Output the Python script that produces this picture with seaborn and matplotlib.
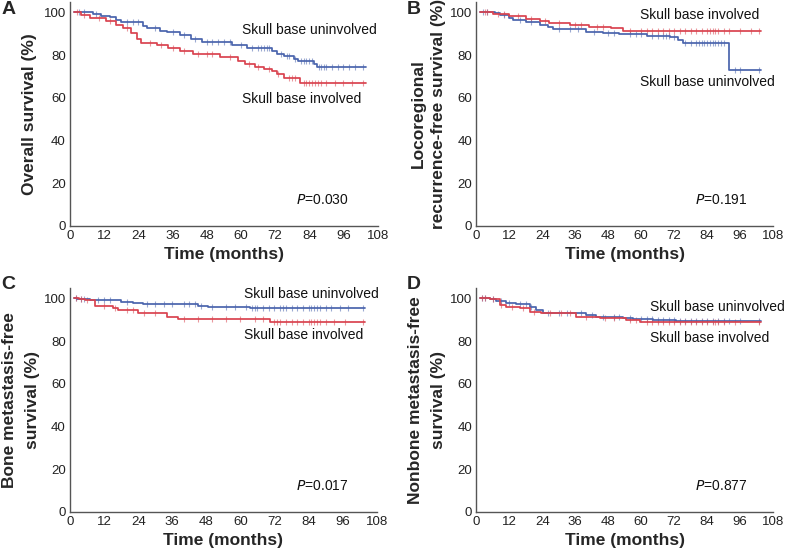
import numpy as np
import pandas as pd
import matplotlib
matplotlib.use("Agg")
import matplotlib.pyplot as plt
import seaborn as sns

sns.set_style("white")
plt.rcParams['font.family'] = ['Liberation Sans', 'DejaVu Sans']

RED = '#d9434f'
BLUE = '#4a64ad'

# ---------------- data (step times / survival after step) ----------------
A_unin_t = [1.5, 8, 11, 14, 16, 18, 25.5, 27, 31.5, 34, 38.5, 42.5, 46.5, 57, 62, 71, 72.5, 75, 78.5, 80, 85.5, 86.8, 103.8]
A_unin_s = [100, 99.3, 98.5, 97.8, 96.5, 95.5, 93.5, 92.5, 91.5, 90.8, 89.5, 87.5, 86.2, 84.5, 83.3, 82, 80.5, 79.5, 78.2, 77, 76, 74.2, 74.2]
A_inv_t = [1.5, 4, 7, 12.5, 16, 18.5, 21.5, 23.5, 25, 30.5, 34.5, 38.5, 43, 52.5, 59, 61.3, 65, 68, 71, 72.5, 75, 80.7, 103.8]
A_inv_s = [100, 99, 97.2, 95.8, 94.2, 92.8, 90.5, 87.5, 85.5, 84.7, 83.2, 82, 80.5, 79.3, 77, 76, 74.6, 73.6, 72.3, 71.3, 69.2, 66.8, 66.8]

B_inv_t = [1.5, 6, 12, 18, 23, 26.5, 34, 41, 49, 53.5, 103.8]
B_inv_s = [100, 99.3, 98.2, 96.8, 95.8, 94.9, 94.1, 93.3, 92.6, 91.2, 91.2]
B_unin_t = [1.5, 6.7, 8.5, 12, 13.3, 18, 23, 26, 28, 40, 46, 52, 62, 70.5, 73.5, 75.2, 92, 103.8]
B_unin_s = [100, 99.5, 98.7, 97.3, 96.2, 95.6, 94.1, 93.3, 92.2, 91, 90.3, 89.8, 88.8, 88.3, 87.2, 85.5, 73, 73]

C_unin_t = [1.5, 2.5, 7, 18, 22.3, 25.8, 45, 48.5, 63.5, 103.8]
C_unin_s = [100, 99.6, 99.2, 98.4, 97.8, 97.2, 96.6, 95.9, 95.3, 95.3]
C_inv_t = [1.5, 3, 5.3, 8.8, 15.2, 17, 24, 34, 38, 70.4, 103.8]
C_inv_s = [100, 99.7, 99.2, 96.6, 95.3, 94.4, 93, 91.2, 90.3, 89, 89]

D_unin_t = [1.2, 4.9, 7.3, 10.9, 14.6, 19.4, 21.8, 24.3, 40, 43.7, 53.4, 57, 64.3, 72.8, 103.8]
D_unin_s = [100, 99.6, 98.8, 97.9, 97.2, 96.1, 94.5, 93, 92.2, 91.4, 90.6, 90.2, 89.8, 89.4, 89.4]
D_inv_t = [1.2, 4.9, 8.5, 10.9, 15.8, 19.4, 23.7, 36.4, 44.9, 54.6, 59.5, 103.8]
D_inv_s = [100, 99.6, 97, 96.1, 95.3, 93.8, 93, 91.4, 90.9, 89.8, 89, 89]

# censor times
A_unin_c = [3, 5, 9, 20, 22, 24, 30, 36, 40, 44, 48, 50, 52, 54, 56, 60, 64, 66, 67, 68, 69, 70, 74, 76, 77, 79, 81, 82, 83, 84, 85, 87.5, 88, 89, 90, 92, 94, 96, 98, 100, 103]
A_inv_c = [2.5, 5, 10, 14, 20, 28, 32, 36, 40, 45, 48, 50, 56, 63, 66, 70, 73, 77, 78, 79, 82, 83, 84, 85, 86, 87, 88, 90, 93, 96, 99, 103]
B_inv_c = [3, 4, 8, 10, 15, 20, 25, 30, 36, 38, 44, 46, 56, 60, 62, 64, 66, 68, 70, 72, 74, 76, 78, 80, 82, 84, 85, 86, 87, 88, 90, 92, 96, 100, 103]
B_unin_c = [2.5, 4, 10, 16, 20, 30, 34, 37, 43, 48, 50, 56, 58, 60, 64, 66, 68, 69, 70, 72, 76, 78, 80, 81, 82, 83, 84, 85, 86, 87, 88, 89, 90, 94, 96, 103]
C_unin_c = [2, 4, 5, 10, 12, 14, 20, 27, 30, 33, 36, 40, 42, 44, 46, 50, 55, 58, 62, 64, 65, 66, 68, 70, 72, 74, 75, 76, 78, 80, 82, 84, 85, 86, 87, 88, 90, 92, 95, 98, 103]
C_inv_c = [2, 4, 6, 12, 16, 20, 22, 26, 30, 40, 45, 50, 55, 60, 65, 68, 72, 73, 74, 76, 78, 80, 82, 84, 85, 86, 87, 88, 90, 93, 97, 103]
D_unin_c = [2, 3, 6, 9, 12, 16, 18, 20, 26, 30, 33, 38, 42, 46, 50, 52, 56, 60, 62, 64, 66, 68, 70, 72, 74, 76, 78, 80, 82, 84, 86, 88, 90, 92, 96, 103]
D_inv_c = [2, 3, 6, 9, 13, 17, 21, 27, 31, 34, 40, 47, 50, 56, 58, 62, 64, 66, 68, 70, 72, 74, 76, 78, 80, 82, 84, 86, 87, 88, 90, 94, 103]

# y labels: (first line, second line)
ylabels = [(None, 'Overall survival (%)'),
           ('Locoregional', 'recurrence-free survival (%)'),
           ('Bone metastasis-free', 'survival (%)'),
           ('Nonbone metastasis-free', 'survival (%)')]
letters = ['A', 'B', 'C', 'D']
pvals = ['0.030', '0.191', '0.017', '0.877']
xticks = [0, 12, 24, 36, 48, 60, 72, 84, 96, 108]
yticks = [0, 20, 40, 60, 80, 100]

panels = [
    dict(curves=[(A_unin_t, A_unin_s, A_unin_c, BLUE), (A_inv_t, A_inv_s, A_inv_c, RED)],
         labels=[('Skull base uninvolved', 60.4, 91.7), ('Skull base involved', 60.4, 59.3)]),
    dict(curves=[(B_unin_t, B_unin_s, B_unin_c, BLUE), (B_inv_t, B_inv_s, B_inv_c, RED)],
         labels=[('Skull base involved', 59.5, 98.7), ('Skull base uninvolved', 59.5, 67.2)]),
    dict(curves=[(C_unin_t, C_unin_s, C_unin_c, BLUE), (C_inv_t, C_inv_s, C_inv_c, RED)],
         labels=[('Skull base uninvolved', 61.1, 101.9), ('Skull base involved', 61.1, 82.8)]),
    dict(curves=[(D_unin_t, D_unin_s, D_unin_c, BLUE), (D_inv_t, D_inv_s, D_inv_c, RED)],
         labels=[('Skull base uninvolved', 63.3, 96.1), ('Skull base involved', 63.3, 81.5)]),
]

fig = plt.figure(figsize=(7.86, 5.49), dpi=100)
rects = [
    [0.0891, 0.5889, 0.3914, 0.408],
    [0.606, 0.5889, 0.3775, 0.408],
    [0.0891, 0.0679, 0.3902, 0.408],
    [0.606, 0.0679, 0.3775, 0.408],
]
letter_pos = [(0.002, 0.998), (0.517, 0.998), (0.002, 0.498), (0.517, 0.498)]
# x positions (pixels) of the centres of the two y-label lines
line1_px = [None, 418, 10, 416]
line2_px = [30, 438, 33, 438]

for i, p in enumerate(panels):
    ax = fig.add_axes(rects[i])
    for (t, s, c, col) in p['curves']:
        df = pd.DataFrame({'t': t, 's': s})
        sns.lineplot(data=df, x='t', y='s', ax=ax, color=col, lw=1.25,
                     drawstyle='steps-post', estimator=None, sort=False)
        tt = np.asarray(t); ss = np.asarray(s); cc = np.asarray(c, dtype=float)
        idx = np.searchsorted(tt, cc, side='right') - 1
        cdf = pd.DataFrame({'t': cc, 's': ss[idx]})
        sns.scatterplot(data=cdf, x='t', y='s', ax=ax, color=col, marker='|',
                        s=22, linewidth=0.8, alpha=0.55, legend=False)
    for (txt, x, y) in p['labels']:
        ax.text(x, y, txt, fontsize=10, ha='left', va='center', color='#111')
    ax.text(79.5, 12, r'$\mathit{P}$=' + pvals[i], fontsize=10, ha='left', va='center', color='#111')
    ax.set_xlim(0, 108)
    ax.set_ylim(0, 105)
    ax.set_xticks(xticks)
    ax.set_yticks(yticks)
    ax.set_xlabel('Time (months)', fontsize=12.5, fontweight='bold', labelpad=4)
    ax.set_ylabel('')
    ax.tick_params(direction='in', length=3, width=0.8, labelsize=9.5, colors='#222', pad=3)
    for side in ['top', 'right']:
        ax.spines[side].set_visible(False)
    for side in ['left', 'bottom']:
        ax.spines[side].set_color('#555')
        ax.spines[side].set_linewidth(1.0)
    axw_px = rects[i][2] * 786
    axl_px = rects[i][0] * 786
    l1, l2 = ylabels[i]
    ax.text((line2_px[i] - axl_px) / axw_px, 0.5, l2, transform=ax.transAxes,
            rotation=90, ha='center', va='center', fontsize=12.5, fontweight='bold')
    if l1 is not None:
        ax.text((line1_px[i] - axl_px) / axw_px, 0.5, l1, transform=ax.transAxes,
                rotation=90, ha='center', va='center', fontsize=12.5, fontweight='bold')
    fig.text(letter_pos[i][0], letter_pos[i][1], letters[i], fontsize=14,
             fontweight='bold', ha='left', va='top')

fig.savefig('out.png', dpi=100)
